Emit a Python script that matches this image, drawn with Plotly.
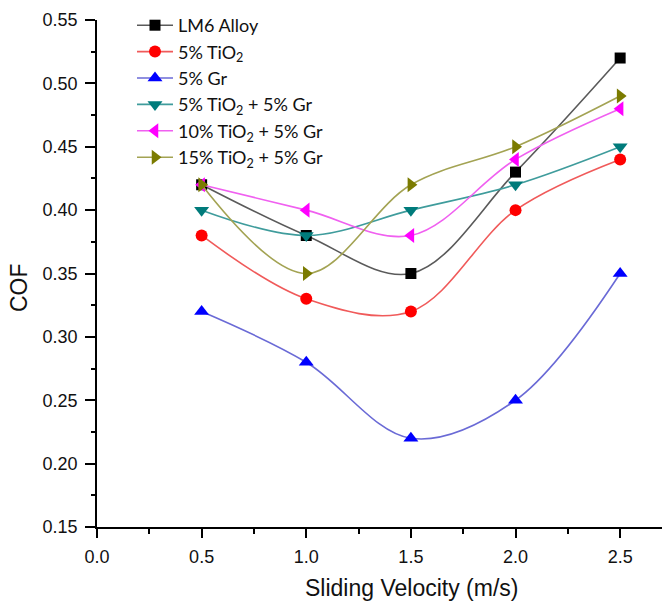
import plotly.graph_objects as go

velocity = [0.5, 1.0, 1.5, 2.0, 2.5]
lm6_alloy = [0.42, 0.38, 0.35, 0.43, 0.52]
tio2_5 = [0.38, 0.33, 0.32, 0.40, 0.44]
gr_5 = [0.32, 0.28, 0.22, 0.25, 0.35]
tio2_5_gr_5 = [0.40, 0.38, 0.40, 0.42, 0.45]
tio2_10_gr_5 = [0.42, 0.40, 0.38, 0.44, 0.48]
tio2_15_gr_5 = [0.42, 0.35, 0.42, 0.45, 0.49]

series_names = ["LM6 Alloy", "5% TiO<sub>2</sub>", "5% Gr",
                "5% TiO<sub>2</sub> + 5% Gr", "10% TiO<sub>2</sub> + 5% Gr",
                "15% TiO<sub>2</sub> + 5% Gr"]
series_values = [lm6_alloy, tio2_5, gr_5, tio2_5_gr_5, tio2_10_gr_5, tio2_15_gr_5]
marker_colors = ["#000000", "#ff0000", "#0000ff", "#007b7b", "#ff00ff", "#7b7b00"]
line_colors = ["#5a5a5a", "#f05a5a", "#6a6ad6", "#3f9c9c", "#f060f0", "#a3a353"]
symbols = ["square", "circle", "triangle-up", "triangle-down", "triangle-left", "triangle-right"]
sizes = [11, 12, 13, 13, 13, 13]

fig = go.Figure()
for name, vals, mc, lc, sym, sz in zip(series_names, series_values, marker_colors,
                                      line_colors, symbols, sizes):
    fig.add_trace(go.Scatter(
        x=velocity, y=vals, name=name, mode="lines+markers",
        line=dict(color=lc, width=1.6, shape="spline", smoothing=1.0),
        marker=dict(color=mc, symbol=sym, size=sz, line=dict(width=0)),
    ))

axis_font = dict(family="Liberation Sans, Arial, sans-serif", size=18, color="#111111")
title_font = dict(family="Liberation Sans, Arial, sans-serif", size=23, color="#111111")

L, T, B, W, H = 97, 20, 74, 662, 601
PW, PH = W - L, H - T - B

fig.update_layout(
    width=W, height=H,
    margin=dict(l=L, r=0, t=T, b=B),
    paper_bgcolor="white", plot_bgcolor="white",
    showlegend=True,
    legend=dict(x=(132 - L) / PW, y=1 + (T - 7) / PH, xanchor="left", yanchor="top",
                bgcolor="rgba(0,0,0,0)", borderwidth=0,
                font=dict(family="Lato, Open Sans, sans-serif", size=18, color="#111111"),
                itemwidth=36, tracegroupgap=0),
    xaxis=dict(range=[0, 2.70], tick0=0, dtick=0.5, tickformat=".1f",
               showline=True, linecolor="black", linewidth=1.8,
               ticks="outside", ticklen=9, tickwidth=1.8, tickcolor="black",
               ticklabelstandoff=3,
               minor=dict(ticks="outside", ticklen=5, tickwidth=1.8, tickcolor="black", dtick=0.25),
               showgrid=False, zeroline=False, tickfont=axis_font),
    yaxis=dict(range=[0.15, 0.55], tick0=0.15, dtick=0.05, tickformat=".2f",
               showline=True, linecolor="black", linewidth=1.8,
               ticks="outside", ticklen=10, tickwidth=1.8, tickcolor="black",
               ticklabelstandoff=4,
               minor=dict(ticks="outside", ticklen=4, tickwidth=1.8, tickcolor="black", dtick=0.025),
               showgrid=False, zeroline=False, tickfont=axis_font),
    annotations=[
        dict(text="Sliding Velocity (m/s)", xref="paper", yref="paper",
             x=(411 - L) / PW, y=-(588 - (H - B)) / PH, xanchor="center", yanchor="middle",
             showarrow=False, font=title_font),
        dict(text="COF", xref="paper", yref="paper",
             x=-(L - 19) / PW, y=((H - B) - 288) / PH, xanchor="center", yanchor="middle",
             textangle=-90, showarrow=False, font=title_font),
    ],
)

fig.write_html("out.html", config={"displayModeBar": False},
               post_script="document.body.style.margin='0';document.body.style.overflow='hidden';")
